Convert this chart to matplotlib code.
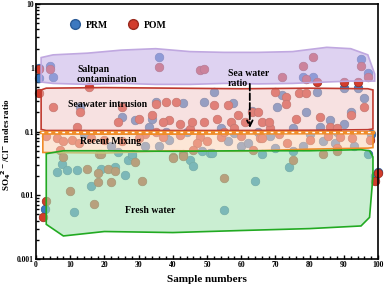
import matplotlib
matplotlib.use('Agg')
import matplotlib.pyplot as plt
from matplotlib.lines import Line2D

plt.rcParams['font.family'] = ['Liberation Serif', 'DejaVu Serif']
plt.rcParams['font.weight'] = 'bold'

# PRM samples (sample number, SO4/Cl ratio)
prm_x = [1, 1, 4, 5, 13, 25, 29, 34, 35, 43, 36, 49, 52, 57.5, 63, 70.5, 72, 78, 81, 82,
         79, 86, 90, 92, 94, 95, 96, 97, 54, 75, 90, 98,
         7.5, 6, 9, 12, 19, 16, 23, 26, 27, 28, 24, 11, 2.5, 45, 46, 51, 55, 64, 74, 75,
         66, 100, 99,
         32, 39, 36, 48.5, 51.5, 60, 62, 68.5, 84, 87.5, 22, 28, 44, 58, 70, 78, 80, 93,
         97, 14, 65, 38, 88, 56, 33, 83]
prm_y = [1.0, 0.70, 1.07, 0.72, 0.245, 0.17, 0.15, 0.16, 0.29, 0.28, 1.48, 0.29, 0.42, 0.28,
         0.21, 0.24, 0.38, 0.72, 0.72, 0.42,
         0.20, 0.15, 0.48, 0.20, 0.48, 1.4, 0.34, 0.83, 0.115, 0.115, 0.13, 0.09,
         0.031, 0.023, 0.025, 0.025, 0.026, 0.014, 0.028, 0.021, 0.036, 0.041, 0.047, 0.0054,
         0.006, 0.036, 0.029, 0.046, 0.0058, 0.017, 0.028, 0.05,
         0.044, 0.023, 0.02,
         0.06, 0.074, 0.06, 0.05, 0.046, 0.06, 0.066, 0.085, 0.07, 0.065, 0.06, 0.045, 0.1,
         0.095, 0.055, 0.06, 0.09, 0.06,
         0.045, 0.09, 0.1, 0.1, 0.1, 0.07, 0.12, 0.12]

# POM samples
pom_x = [1, 4, 1, 5, 13, 12, 15.5, 25, 24, 34, 35, 38, 41, 39, 42, 36, 48, 49, 32, 45,
         72, 79, 82, 78, 81, 95, 97, 90, 94, 70, 73, 77, 79, 96, 52, 56, 53, 49, 59, 63,
         65, 73, 76, 83, 92, 57, 61, 66, 68.5, 58, 86, 88, 45.5, 37, 68, 30,
         6, 8, 10.5, 12.5, 7, 18.5, 20, 30, 37, 42, 48, 47, 46, 50, 54, 40, 43, 63.5, 65.5,
         73.5, 85.5, 89, 92.5, 97.5, 88, 66, 25, 16, 35, 55, 71, 80, 60, 3,
         8, 15, 18, 18, 21, 23, 22, 29, 31, 19, 10, 3, 2, 17, 40, 43, 55, 75, 84, 88, 100, 99]
pom_y = [0.95, 0.95, 0.41, 0.245, 0.20, 0.116, 0.5, 0.24, 0.14, 0.18, 0.27, 0.29, 0.29, 0.15,
         0.13, 1.03, 0.93, 0.95, 0.093, 0.11,
         0.72, 0.66, 0.59, 1.07, 1.48, 1.07, 0.72, 0.6, 0.59, 0.42, 0.35, 0.40, 0.40, 0.24,
         0.26, 0.26, 0.16, 0.14, 0.18, 0.20,
         0.20, 0.27, 0.16, 0.17, 0.18, 0.14, 0.14, 0.14, 0.115, 0.115, 0.12, 0.115, 0.14,
         0.14, 0.14, 0.16,
         0.08, 0.07, 0.074, 0.065, 0.052, 0.045, 0.075, 0.08, 0.083, 0.088, 0.083, 0.065,
         0.052, 0.072, 0.083, 0.04, 0.045, 0.052, 0.08,
         0.065, 0.085, 0.083, 0.08, 0.074, 0.056, 0.08, 0.07, 0.08, 0.1, 0.1, 0.09, 0.075,
         0.085, 0.085,
         0.04, 0.026, 0.022, 0.016, 0.026, 0.024, 0.016, 0.033, 0.017, 0.044, 0.0115, 0.008,
         0.0045, 0.0072, 0.038, 0.042, 0.019, 0.036, 0.045, 0.05, 0.022, 0.017]

# hand-drawn zones: x, upper and lower boundary
salt_x = [1.5, 5, 15, 25, 35, 45, 55, 65, 75, 85, 92, 97, 99]
salt_top = [1.45, 1.6, 1.7, 1.9, 2.0, 1.8, 1.75, 1.75, 1.8, 2.1, 2.0, 1.6, 0.8]
salt_bot = [0.6, 0.57, 0.55, 0.57, 0.55, 0.55, 0.57, 0.56, 0.57, 0.6, 0.62, 0.62, 0.62]

sea_x = [1.5, 3, 20, 40, 60, 80, 97, 98.5]
sea_top = [0.45, 0.48, 0.49, 0.48, 0.47, 0.48, 0.47, 0.45]
sea_bot = [0.108, 0.104, 0.104, 0.104, 0.104, 0.105, 0.107, 0.11]

mix_x = [2, 20, 40, 60, 80, 97, 98.5]
mix_top = [0.092, 0.091, 0.091, 0.092, 0.093, 0.093, 0.092]
mix_bot = [0.047, 0.046, 0.05, 0.049, 0.053, 0.055, 0.056]

fresh_x = [3, 8, 20, 40, 60, 80, 95, 97.5, 98.5]
fresh_top = [0.045, 0.05, 0.05, 0.049, 0.05, 0.05, 0.052, 0.05, 0.04]
fresh_bot = [0.0035, 0.0023, 0.0027, 0.0026, 0.0028, 0.003, 0.0033, 0.0045, 0.02]

fig = plt.figure(figsize=(3.87, 2.96), dpi=100)
ax = fig.add_axes([0.093, 0.125, 0.884, 0.861])

ax.scatter(prm_x, prm_y, s=38, c='#3c78c0', edgecolors='#2a5a96', linewidths=0.5,
           zorder=2, clip_on=False)
ax.scatter(pom_x, pom_y, s=38, c='#d23c2c', edgecolors='#9a2a1e', linewidths=0.5,
           zorder=2, clip_on=False)


def zone(x, top, bot, fc, ec, a):
    ax.fill(x + x[::-1], top + bot[::-1], facecolor=fc, alpha=a, zorder=3)
    ax.fill(x + x[::-1], top + bot[::-1], facecolor='none', edgecolor=ec, lw=1.2, zorder=3)


zone(salt_x, salt_top, salt_bot, '#c8b4e8', '#c0a8e0', 0.6)
zone(sea_x, sea_top, sea_bot, '#f0c4c4', '#c03a30', 0.5)
zone(mix_x, mix_top, mix_bot, '#fbd6bc', '#f08c28', 0.6)
zone(fresh_x, fresh_top, fresh_bot, '#a8e4b4', '#22aa22', 0.6)

# sea water ratio line
ax.plot([1.5, 98.5], [0.097, 0.097], color='#f08c28', lw=2.5, zorder=3)
ax.plot([1.5, 98.5], [0.097, 0.097], color='white', lw=1, ls=(0, (2, 3)), zorder=3)
ax.annotate('', xy=(62.5, 0.103), xytext=(62.5, 0.62),
            arrowprops=dict(arrowstyle='->', ls='--', lw=1.3, color='k'), zorder=4)

tk = dict(fontsize=7, fontweight='bold', zorder=5)
ax.text(12, 0.78, 'Saltpan\ncontamination', va='center', ha='left', linespacing=1.1, **tk)
ax.text(9.5, 0.27, 'Seawater intrusion', va='center', ha='left', **tk)
ax.text(13, 0.071, 'Recent Mixing', va='center', ha='left', **tk)
ax.text(26, 0.0058, 'Fresh water', va='center', ha='left', **tk)
ax.text(56, 0.68, 'Sea water\nratio', va='center', ha='left', linespacing=1.1, **tk)

handles = [Line2D([], [], ls='', marker='o', ms=7, mfc='#3c78c0', mec='#2a5a96'),
           Line2D([], [], ls='', marker='o', ms=7, mfc='#d23c2c', mec='#9a2a1e')]
ax.legend(handles, ['PRM', 'POM'], loc='upper left', bbox_to_anchor=(0.06, 0.97), ncol=2,
          frameon=False, prop={'size': 7, 'weight': 'bold'}, columnspacing=1.6,
          handletextpad=0.1)

ax.set_yscale('log')
ax.set_ylim(0.001, 10)
ax.set_xlim(0, 100)
ax.set_xticks(range(0, 101, 10))
ax.set_xticks(range(0, 101, 2), minor=True)
ax.set_yticks([0.001, 0.01, 0.1, 1, 10])
ax.set_yticklabels(['0.001', '0.01', '0.1', '1', '10'])
ax.tick_params(which='both', direction='in', labelsize=5.5, width=1, pad=1.5)
ax.tick_params(which='major', length=3)
ax.tick_params(which='minor', length=2)
for lab in ax.get_xticklabels() + ax.get_yticklabels():
    lab.set_fontweight('bold')
for s in ax.spines.values():
    s.set_linewidth(1.2)

ax.set_xlabel('Sample numbers', fontsize=8, fontweight='bold', labelpad=4)
ax.set_ylabel(r'SO$_4$$^{2-}$/Cl$^{-}$ moles ratio', fontsize=6.5, fontweight='bold')
ax.yaxis.set_label_coords(-0.068, 0.45)

fig.savefig('out.png', dpi=100)
